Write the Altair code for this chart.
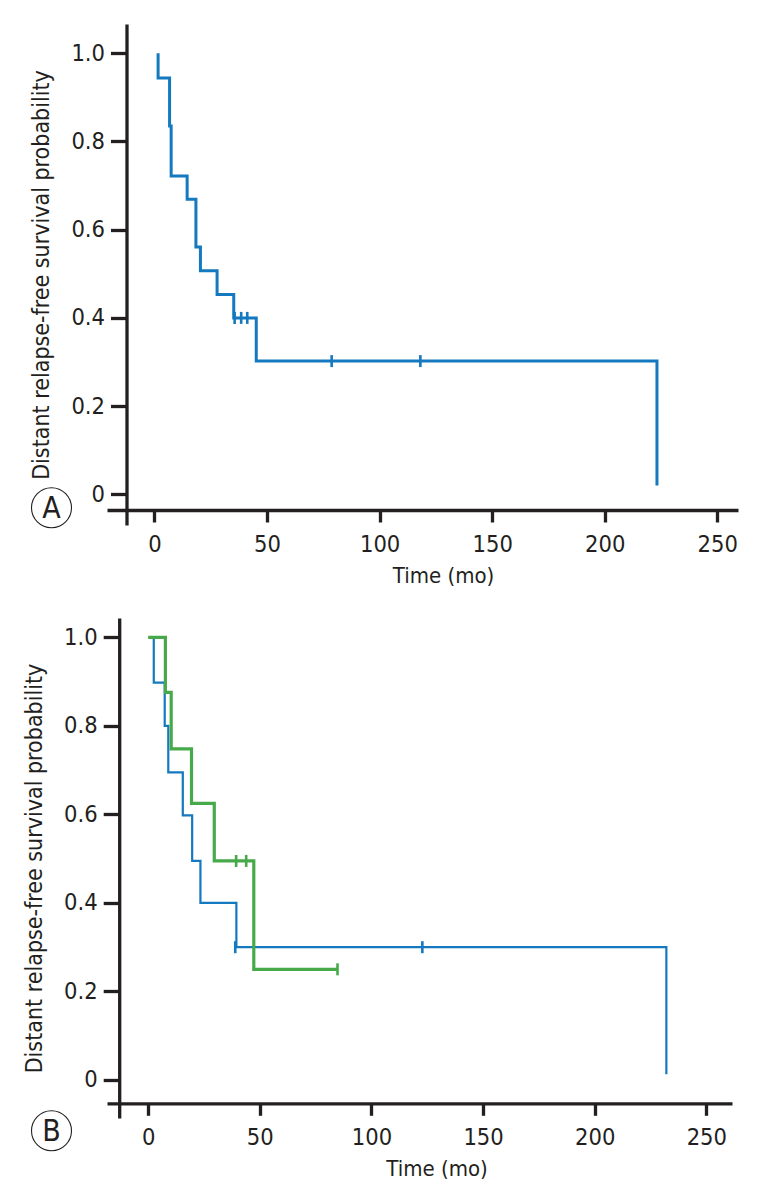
import altair as alt
import pandas as pd

# ---------------- data ----------------
# Panel A: single Kaplan-Meier curve (step points: time, survival)
a_time = [1.6, 1.6, 6.7, 7.4, 14.5, 18.4, 20.4, 27.8, 35.2, 45.2, 223.2]
a_surv = [1.0, 0.944, 0.835, 0.722, 0.669, 0.561, 0.507, 0.453, 0.400, 0.302, 0.02]
a_cens_time = [35.6, 38.5, 41.2, 78.7, 118.1]
a_cens_surv = [0.400, 0.400, 0.400, 0.302, 0.302]

# Panel B: blue curve
b1_time = [2.5, 2.5, 7.4, 9.0, 15.5, 19.7, 23.4, 39.5, 232.1]
b1_surv = [1.0, 0.898, 0.80, 0.695, 0.598, 0.495, 0.40, 0.30, 0.013]
b1_cens_time = [39.0, 122.8]
b1_cens_surv = [0.30, 0.30]

# Panel B: green curve
b2_time = [0.0, 7.7, 10.3, 19.4, 29.6, 47.3, 84.8]
b2_surv = [1.0, 0.876, 0.748, 0.625, 0.495, 0.25, 0.25]
b2_cens_time = [39.4, 43.9, 84.8]
b2_cens_surv = [0.495, 0.495, 0.25]

x_ticks = [0, 50, 100, 150, 200, 250]
y_ticks = [0, 0.2, 0.4, 0.6, 0.8, 1.0]
x_title = "Time (mo)"
y_title = "Distant relapse-free survival probability"
panel_labels = ["A", "B"]

# ---------------- styling ----------------
FONT = "'DejaVu Sans Condensed', 'Liberation Sans Narrow', sans-serif"
INK = "#231f20"
BLUE = "#1479bf"
GREEN = "#46aa4a"


def step_df(t, s):
    return pd.DataFrame({"t": t, "s": s, "i": list(range(len(t)))})


def cens_df(t, s):
    return pd.DataFrame({"t": t, "s": s})


def panel(curves, xdom, ydom, width, height, yoff, xoff, title_x, label, lab_xy):
    xs = alt.Scale(domain=xdom, nice=False, zero=False)
    ys = alt.Scale(domain=ydom, nice=False, zero=False)
    xaxis = alt.Axis(
        values=x_ticks, offset=xoff, tickSize=12, tickWidth=3.3, domainWidth=3.3,
        domainColor=INK, tickColor=INK, labelColor=INK, labelFont=FONT,
        labelFontSize=23.5, labelPadding=10, labelFlush=False, grid=False,
        title=x_title, titleFont=FONT, titleFontSize=22, titleFontWeight="normal",
        titleColor=INK, titleX=title_x, titleY=55, titleAlign="center",
        titleBaseline="top", titleAnchor="middle",
    )
    yaxis = alt.Axis(
        values=y_ticks, offset=yoff, tickSize=16, tickWidth=3.3, domainWidth=3.3,
        domainColor=INK, tickColor=INK, labelColor=INK, labelFont=FONT,
        labelFontSize=23.5, labelPadding=6, grid=False,
        labelExpr="datum.value == 0 ? '0' : format(datum.value, '.1f')",
        title=y_title, titleFont=FONT, titleFontSize=23, titleFontWeight="normal",
        titleColor=INK, titleX=-73, titleY=height / 2, titleAngle=270,
        titleAlign="center", titleBaseline="bottom",
    )
    layers = []
    for (t, s, ct, cs, color, sw) in curves:
        enc_x = alt.X("t:Q", scale=xs, axis=xaxis)
        enc_y = alt.Y("s:Q", scale=ys, axis=yaxis)
        line = alt.Chart(step_df(t, s)).mark_line(
            interpolate="step-after", color=color, strokeWidth=sw, strokeJoin="miter",
            strokeCap="butt",
        ).encode(x=enc_x, y=enc_y, order="i:Q")
        ticks = alt.Chart(cens_df(ct, cs)).mark_tick(
            orient="vertical", color=color, size=12, thickness=2.6, opacity=1,
        ).encode(x=enc_x, y=enc_y)
        layers += [line, ticks]
    lab_df = pd.DataFrame({"label": [label]})
    circ = alt.Chart(lab_df).mark_point(
        shape="circle", size=1600, filled=False, stroke=INK, strokeWidth=1.1, opacity=1,
    ).encode(x=alt.value(lab_xy[0]), y=alt.value(lab_xy[1]))
    txt = alt.Chart(lab_df).mark_text(
        font=FONT, fontSize=30, color=INK, align="center", baseline="middle", dy=1,
    ).encode(x=alt.value(lab_xy[0]), y=alt.value(lab_xy[1]), text="label:N")
    layers += [circ, txt]
    return alt.layer(*layers).properties(width=width, height=height)


chart_a = panel(
    [(a_time, a_surv, a_cens_time, a_cens_surv, BLUE, 3.0)],
    xdom=[-21.1, 259.2], ydom=[-0.0696, 1.0664], width=631, height=501,
    yoff=-19.5, xoff=-15, title_x=336, label=panel_labels[0], lab_xy=(-55.5, 483.7),
)
chart_b = panel(
    [(b1_time, b1_surv, b1_cens_time, b1_cens_surv, BLUE, 2.2),
     (b2_time, b2_surv, b2_cens_time, b2_cens_surv, GREEN, 3.2)],
    xdom=[-18.45, 261.5], ydom=[-0.086, 1.044], width=625, height=500,
    yoff=-12.2, xoff=-14.7, title_x=329.5, label=panel_labels[1], lab_xy=(-55.5, 512.7),
)

chart = alt.vconcat(chart_a, chart_b, spacing=32).properties(
    padding={"top": 16, "left": 15, "right": 5, "bottom": 5},
    background="white",
).configure_view(stroke=None)

chart.save("out.html", embed_options={"renderer": "svg", "actions": False})
